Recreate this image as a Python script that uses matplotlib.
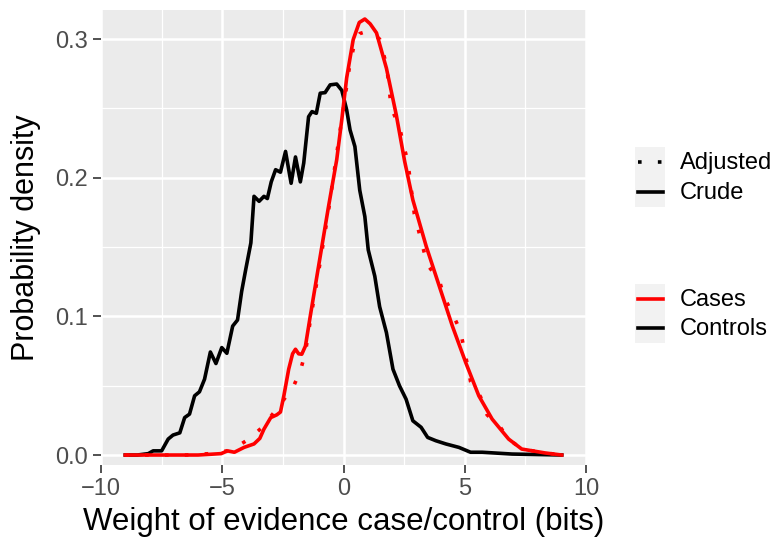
import matplotlib
matplotlib.use("Agg")
import matplotlib.pyplot as plt
from matplotlib.patches import Rectangle
from matplotlib.lines import Line2D

plt.rcParams["font.family"] = ["Liberation Sans", "DejaVu Sans"]

# Controls, crude density
controls_x = [-9.0, -8.5, -8.05, -7.85, -7.5, -7.23, -7.03, -6.75, -6.55, -6.35, -6.14, -5.94,
              -5.73, -5.49, -5.26, -5.02, -4.81, -4.57, -4.37, -4.2, -4.03, -3.82, -3.69, -3.48,
              -3.28, -3.14, -2.98, -2.80, -2.6, -2.39, -2.16, -1.98, -1.78, -1.64, -1.44, -1.30,
              -1.12, -0.96, -0.76, -0.55, -0.28, -0.07, 0.13, 0.27, 0.47, 0.67, 0.88, 1.02,
              1.29, 1.49, 1.77, 2.04, 2.31, 2.58, 2.86, 3.2, 3.47, 3.81, 4.22, 4.76, 5.24,
              5.72, 6.95, 9.0]
controls_y = [0.0, 0.0, 0.001, 0.003, 0.003, 0.0115, 0.0144, 0.016, 0.027, 0.0295, 0.0427, 0.0456,
              0.0547, 0.0743, 0.066, 0.0775, 0.0734, 0.093, 0.0974, 0.118, 0.134, 0.153, 0.1866, 0.183,
              0.1866, 0.185, 0.197, 0.2058, 0.204, 0.219, 0.196, 0.215, 0.197, 0.2106, 0.244, 0.2477,
              0.2465, 0.261, 0.2614, 0.267, 0.2676, 0.263, 0.249, 0.2345, 0.2225, 0.191, 0.172, 0.148,
              0.129, 0.107, 0.0883, 0.0619, 0.0499, 0.0403, 0.0247, 0.02, 0.0127, 0.0103, 0.008, 0.0055, 0.002,
              0.002, 0.0007, 0.0]

# Cases, crude density
cases_x = [-9.0, -6.0, -5.05, -4.78, -4.5, -4.1, -3.69, -3.45, -3.28, -3.0, -2.75, -2.6, -2.46,
           -2.26, -2.1, -1.98, -1.85, -1.72, -1.57, -1.37, -1.03, -0.62, -0.28, -0.07, 0.13, 0.40,
           0.65, 0.88, 1.1, 1.36, 1.77, 2.18, 2.52, 2.86, 3.41, 3.95, 4.49, 5.04, 5.58, 6.13,
           6.81, 7.35, 8.31, 9.0]
cases_y = [0.0, 0.0, 0.001, 0.003, 0.002, 0.0055, 0.008, 0.012, 0.0187, 0.027, 0.029, 0.031, 0.0427,
           0.0619, 0.073, 0.0763, 0.073, 0.0727, 0.0786, 0.1002, 0.136, 0.179, 0.213, 0.242, 0.272, 0.2996,
           0.312, 0.3145, 0.311, 0.3045, 0.279, 0.245, 0.212, 0.184, 0.1506, 0.1218, 0.093, 0.0667, 0.0427, 0.0259,
           0.0115, 0.0043, 0.0015, 0.0]

# Cases, adjusted density
cases_adj_x = [-9.0, -6.5, -5.5, -4.8, -4.4, -3.9, -3.35, -2.9, -2.46, -2.05, -1.78, -1.57, -1.37,
               -1.03, -0.62, -0.14, 0.13, 0.27, 0.50, 0.67, 0.95, 1.2, 1.49, 1.70, 1.83, 1.97, 2.31,
               2.45, 2.65, 2.75, 2.92, 3.27, 3.47, 3.95, 4.15, 4.49, 4.81, 4.97, 5.11, 5.24, 5.65,
               5.92, 6.47, 6.81, 7.35, 8.31, 9.0]
cases_adj_y = [0.0, 0.0, 0.001, 0.003, 0.006, 0.0115, 0.02, 0.03, 0.04, 0.05, 0.0607, 0.074, 0.097,
               0.132, 0.176, 0.234, 0.266, 0.283, 0.300, 0.304, 0.3055, 0.304, 0.300, 0.286, 0.273, 0.250, 0.237,
               0.225, 0.212, 0.198, 0.174, 0.150, 0.137, 0.126, 0.114, 0.102, 0.090, 0.077, 0.065, 0.053, 0.042,
               0.029, 0.02, 0.0115, 0.0043, 0.0015, 0.0]

x_ticks = [-10, -5, 0, 5, 10]
y_ticks = [0.0, 0.1, 0.2, 0.3]
W, H = 775, 538

fig = plt.figure(figsize=(W / 100, H / 100), dpi=100)
ax = fig.add_axes([101 / W, 1 - 465 / H, (586 - 101) / W, (465 - 10) / H])
ax.set_facecolor("#EBEBEB")
for s in ax.spines.values():
    s.set_visible(False)

ax.set_xlim(-9.9, 9.9)
ax.set_ylim(-0.0072, 0.321)
ax.set_xticks(x_ticks)
ax.set_xticklabels(["\u221210", "\u22125", "0", "5", "10"])
ax.set_yticks(y_ticks)
ax.set_yticklabels([f"{v:.1f}" for v in y_ticks])
ax.set_xticks([-7.5, -2.5, 2.5, 7.5], minor=True)
ax.set_yticks([0.05, 0.15, 0.25], minor=True)
ax.grid(which="major", color="white", linewidth=1.8)
ax.grid(which="minor", color="white", linewidth=0.9)
ax.set_axisbelow(True)
ax.tick_params(which="major", length=5.5, width=1.2, color="#333333", labelsize=17,
               labelcolor="#4D4D4D", pad=4)
ax.tick_params(which="minor", length=0)

lw = 2.6
dots = (0, (1, 4.5))
ax.plot(controls_x, controls_y, color="black", linewidth=lw, solid_joinstyle="round")
ax.plot(cases_x, cases_y, color="red", linewidth=lw, solid_joinstyle="round")
ax.plot(cases_adj_x, cases_adj_y, color="red", linewidth=lw, linestyle=dots)

ax.set_xlabel("Weight of evidence case/control (bits)", fontsize=22.5, labelpad=5)
ax.set_ylabel("Probability density", fontsize=22, labelpad=10)

# legends drawn in pixel coordinates
lax = fig.add_axes([0, 0, 1, 1])
lax.set_xlim(0, W)
lax.set_ylim(H, 0)
lax.axis("off")

legend_rows = [
    (147, "Adjusted", "black", dots),
    (177, "Crude", "black", "-"),
    (284, "Cases", "red", "-"),
    (313, "Controls", "black", "-"),
]
for top, label, col, ls in legend_rows:
    lax.add_patch(Rectangle((635, top), 30, 30, facecolor="#F2F2F2", edgecolor="none"))
    lax.add_line(Line2D([637.5, 662.5], [top + 15, top + 15], color=col, linewidth=lw, linestyle=ls))
    lax.text(680, top + 16, label, fontsize=17, va="center", ha="left", color="black")

fig.savefig("out.png", dpi=100)
